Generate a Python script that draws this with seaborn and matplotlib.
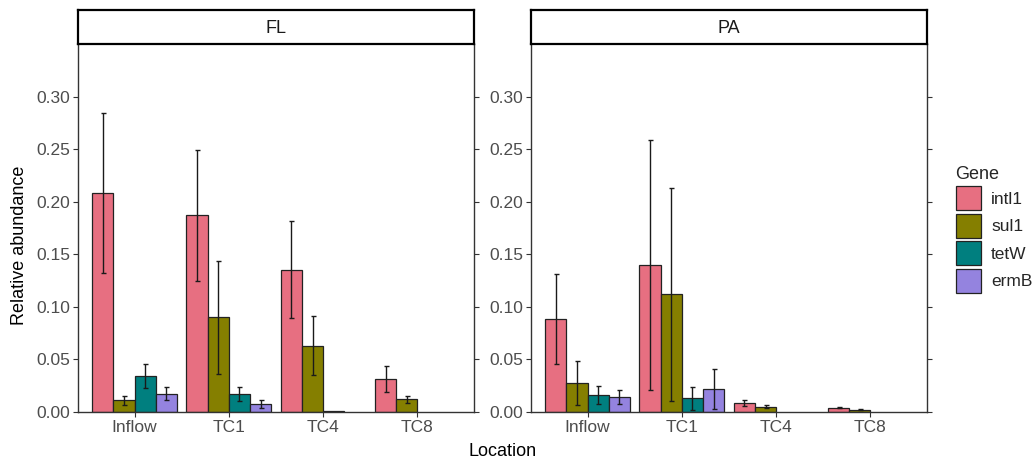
import numpy as np
import pandas as pd
import seaborn as sns
import matplotlib.pyplot as plt
from matplotlib.patches import Patch

# Data
locations = ['Inflow', 'TC1', 'TC4', 'TC8']
genes = ['intl1', 'sul1', 'tetW', 'ermB']
panels = ['FL', 'PA']

# mean values, one list per gene (order: Inflow, TC1, TC4, TC8), nan = no bar
fl_intl1 = [0.208, 0.187, 0.1355, 0.031]
fl_sul1 = [0.011, 0.090, 0.063, 0.012]
fl_tetW = [0.0344, 0.0175, 0.001, np.nan]
fl_ermB = [0.0175, 0.0073, np.nan, np.nan]

pa_intl1 = [0.0888, 0.1397, 0.0086, 0.0041]
pa_sul1 = [0.0277, 0.112, 0.0051, 0.0022]
pa_tetW = [0.0162, 0.013, np.nan, np.nan]
pa_ermB = [0.014, 0.022, np.nan, np.nan]

# error bar half widths (sd)
fl_intl1_err = [0.076, 0.0625, 0.0463, 0.0124]
fl_sul1_err = [0.0045, 0.054, 0.028, 0.0035]
fl_tetW_err = [0.0113, 0.0067, np.nan, np.nan]
fl_ermB_err = [0.0063, 0.0039, np.nan, np.nan]

pa_intl1_err = [0.0428, 0.1187, 0.0032, 0.0007]
pa_sul1_err = [0.021, 0.1015, 0.0013, 0.0007]
pa_tetW_err = [0.0082, 0.0112, np.nan, np.nan]
pa_ermB_err = [0.0068, 0.019, np.nan, np.nan]

colors = {'intl1': '#E76F81', 'sul1': '#857F00', 'tetW': '#007F7F', 'ermB': '#9483DF'}

means = {
    'FL': [fl_intl1, fl_sul1, fl_tetW, fl_ermB],
    'PA': [pa_intl1, pa_sul1, pa_tetW, pa_ermB],
}
errs = {
    'FL': [fl_intl1_err, fl_sul1_err, fl_tetW_err, fl_ermB_err],
    'PA': [pa_intl1_err, pa_sul1_err, pa_tetW_err, pa_ermB_err],
}

rows = []
for p in panels:
    for g, vals, evs in zip(genes, means[p], errs[p]):
        for loc, v, e in zip(locations, vals, evs):
            rows.append({'panel': p, 'Location': loc, 'Gene': g, 'value': v, 'err': e})
df = pd.DataFrame(rows)

sns.set_style("white")
plt.rcParams['font.family'] = ['Liberation Sans', 'DejaVu Sans']

W, H = 1035, 462
fig = plt.figure(figsize=(W / 100, H / 100), dpi=100)

def frac(x0, x1, y0, y1):
    return [x0 / W, 1 - y1 / H, (x1 - x0) / W, (y1 - y0) / H]

panel_px = {'FL': (78, 474), 'PA': (531, 927)}
tick_gray = '#4D4D4D'
bar_width = 0.9
n_hue = len(genes)

for p in panels:
    x0, x1 = panel_px[p]
    ax = fig.add_axes(frac(x0, x1, 44, 412))
    sub = df[df['panel'] == p].dropna(subset=['value'])
    sns.barplot(data=sub, x='Location', y='value', hue='Gene', order=locations,
                hue_order=genes, palette=colors, saturation=1, errorbar=None,
                width=bar_width, edgecolor='#222222', linewidth=0.9, legend=False, ax=ax)

    # error bars, dodged the same way as the bars
    step = bar_width / n_hue
    for gi, g in enumerate(genes):
        d = sub[(sub['Gene'] == g) & sub['err'].notna()]
        xs = [locations.index(l) + (gi - (n_hue - 1) / 2) * step for l in d['Location']]
        ax.errorbar(xs, d['value'], yerr=d['err'], fmt='none', ecolor='#1a1a1a',
                    elinewidth=1.0, capsize=1.8, capthick=1.0, zorder=5)

    ax.set_xlim(-0.6, 3.6)
    ax.set_ylim(0, 0.35)
    ax.set_yticks([0, 0.05, 0.10, 0.15, 0.20, 0.25, 0.30])
    ax.set_yticklabels(['0.00', '0.05', '0.10', '0.15', '0.20', '0.25', '0.30'])
    ax.set_xlabel('')
    ax.set_ylabel('')
    for s in ['left', 'right', 'bottom']:
        ax.spines[s].set_visible(True)
        ax.spines[s].set_color('#333333')
        ax.spines[s].set_linewidth(1.0)
    ax.spines['top'].set_visible(False)
    ax.tick_params(axis='both', which='both', direction='out', length=3.5, width=0.8,
                   color='#333333', labelcolor=tick_gray, labelsize=12.5, pad=2)
    ax.tick_params(axis='y', right=True, left=True, labelright=False)
    ax.tick_params(axis='x', bottom=True)

    # facet strip
    sax = fig.add_axes(frac(x0, x1, 10, 44))
    sax.set_xticks([])
    sax.set_yticks([])
    for s in sax.spines.values():
        s.set_visible(True)
        s.set_color('black')
        s.set_linewidth(1.6)
    sax.set_facecolor('white')
    sax.text(0.5, 0.45, p, ha='center', va='center', fontsize=13, color='#1a1a1a',
             transform=sax.transAxes)

fig.text(20 / W, 1 - 245 / H, 'Relative abundance', rotation=90, ha='center', va='center',
         fontsize=13, color='black')
fig.text(503 / W, 1 - 451 / H, 'Location', ha='center', va='center', fontsize=13, color='black')

handles = [Patch(facecolor=colors[g], edgecolor='#222222', linewidth=0.9, label=g) for g in genes]
leg = fig.legend(handles=handles, title='Gene', loc='upper left',
                 bbox_to_anchor=(940 / W, 1 - 150 / H), frameon=False, fontsize=12.5,
                 title_fontsize=13, handlelength=1.45, handleheight=1.75,
                 handletextpad=0.6, labelspacing=0.2, alignment='left')

fig.savefig('out.png', dpi=100, facecolor='white')
